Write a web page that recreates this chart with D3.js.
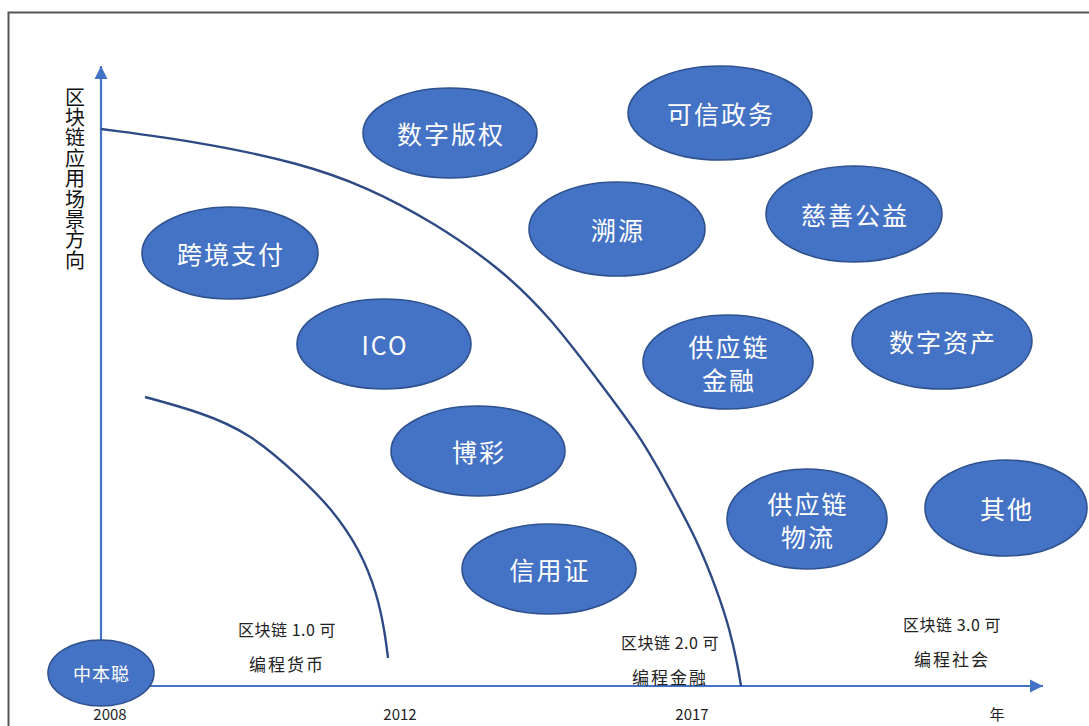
<!DOCTYPE html>
<html>
<head>
<meta charset="utf-8">
<script src="https://cdn.jsdelivr.net/npm/d3@7"></script>
<style>
  html, body { margin: 0; padding: 0; background: #fff; overflow: hidden; }
  svg { display: block; font-family: "Noto Sans CJK SC", "Noto Sans", sans-serif; }
</style>
</head>
<body>
<svg id="chart" width="1089" height="726"></svg>
<script>
// ---- data (diagram units: offsets from the axis origin) ----
const bubbleLabels = ["中本聪", "数字版权", "可信政务", "溯源", "慈善公益", "跨境支付", "ICO",
  "供应链\n金融", "数字资产", "博彩", "供应链\n物流", "其他", "信用证"];
const bubbleX = [0, 349, 619, 516, 753, 129, 283, 627, 841, 377, 706, 905, 448];
const bubbleY = [13, 553, 573, 457, 472, 433, 342, 324, 345, 235, 167, 178, 117];
const bubbleW = [53, 87, 92, 88, 88, 88, 87, 85, 90, 87, 80, 81, 87];
const bubbleH = [33, 45, 47, 47, 48, 46, 45, 47, 48, 45, 50, 48, 45];

const outerCurveX = [0, 99, 199, 266, 332, 399, 449, 499, 542, 569, 596, 616, 629, 637, 640];
const outerCurveY = [557, 544, 523, 499, 464, 418, 369, 303, 246, 196, 146, 96, 56, 19, 0];
const innerCurveX = [44, 99, 149, 199, 232, 259, 276, 284, 287];
const innerCurveY = [289, 274, 253, 209, 176, 136, 93, 53, 28];

const eraLine1 = ["区块链 1.0 可", "区块链 2.0 可", "区块链 3.0 可"];
const eraLine2 = ["编程货币", "编程金融", "编程社会"];
const eraX = [186, 569, 851];
const eraY = [56, 43, 61];

const tickLabels = ["2008", "2012", "2017", "年"];
const tickX = [9, 299, 591, 896];

const yAxisTitle = "区块链应用场景方向";

// ---- scales ----
const x = d3.scaleLinear().domain([0, 942]).range([101, 1043]);
const y = d3.scaleLinear().domain([0, 620]).range([686, 66]);

const svg = d3.select("#chart");

// frame
svg.append("rect")
  .attr("x", 8.5).attr("y", 12.5)
  .attr("width", 1200).attr("height", 800)
  .attr("fill", "none").attr("stroke", "#555").attr("stroke-width", 2);

// arrow marker
const defs = svg.append("defs");
defs.append("marker")
  .attr("id", "arrow")
  .attr("viewBox", "0 0 10 10")
  .attr("refX", 10).attr("refY", 5)
  .attr("markerWidth", 6).attr("markerHeight", 6)
  .attr("markerUnits", "strokeWidth")
  .attr("orient", "auto")
  .append("path").attr("d", "M0,0 L10,5 L0,10 Z").attr("fill", "#4472C4");

const axisColor = "#4472C4";
// y axis
svg.append("line")
  .attr("x1", x(0)).attr("y1", y(0))
  .attr("x2", x(0)).attr("y2", y(620))
  .attr("stroke", axisColor).attr("stroke-width", 2.2)
  .attr("marker-end", "url(#arrow)");
// x axis
svg.append("line")
  .attr("x1", x(40)).attr("y1", y(0))
  .attr("x2", x(942)).attr("y2", y(0))
  .attr("stroke", axisColor).attr("stroke-width", 2.2)
  .attr("marker-end", "url(#arrow)");

// curves
const lineGen = d3.line().x(d => x(d[0])).y(d => y(d[1])).curve(d3.curveBasis);
svg.append("path")
  .attr("d", lineGen(outerCurveX.map((v, i) => [v, outerCurveY[i]])))
  .attr("fill", "none").attr("stroke", "#2E4A85").attr("stroke-width", 2.4);
svg.append("path")
  .attr("d", lineGen(innerCurveX.map((v, i) => [v, innerCurveY[i]])))
  .attr("fill", "none").attr("stroke", "#2E4A85").attr("stroke-width", 2.4);

// y title (vertical)
svg.append("text")
  .attr("x", 75).attr("y", 87)
  .attr("fill", "#111").attr("font-size", 20)
  .style("writing-mode", "vertical-rl")
  .style("text-orientation", "upright")
  .attr("letter-spacing", 0.4)
  .text(yAxisTitle);

// era labels
eraLine1.forEach((t, i) => {
  svg.append("text")
    .attr("x", x(eraX[i])).attr("y", y(eraY[i]) + 6)
    .attr("text-anchor", "middle").attr("font-size", 16).attr("fill", "#222")
    .attr("letter-spacing", 0.5)
    .text(t);
  svg.append("text")
    .attr("x", x(eraX[i])).attr("y", y(eraY[i]) + 41)
    .attr("text-anchor", "middle").attr("font-size", 17).attr("fill", "#222")
    .attr("letter-spacing", 2)
    .text(eraLine2[i]);
});

// year ticks
tickLabels.forEach((t, i) => {
  svg.append("text")
    .attr("x", x(tickX[i])).attr("y", 720)
    .attr("text-anchor", "middle").attr("font-size", 15).attr("fill", "#222")
    .text(t);
});

// bubbles
const g = svg.append("g");
bubbleLabels.forEach((label, i) => {
  const cx = x(bubbleX[i]), cy = y(bubbleY[i]);
  const rx = x(bubbleW[i]) - x(0), ry = y(0) - y(bubbleH[i]);
  g.append("ellipse")
    .attr("cx", cx).attr("cy", cy).attr("rx", rx).attr("ry", ry)
    .attr("fill", "#4472C4").attr("stroke", "#2F528F").attr("stroke-width", 1.6);
  const lines = label.split("\n");
  const fs = i === 0 ? 18 : 25;
  const lh = 33;
  const txt = g.append("text")
    .attr("text-anchor", "middle").attr("fill", "#fff")
    .attr("font-size", fs).attr("letter-spacing", i === 0 ? 1 : 2);
  lines.forEach((ln, j) => {
    const off = (j - (lines.length - 1) / 2) * lh;
    txt.append("tspan")
      .attr("x", cx + (i === 0 ? 0.5 : 1)).attr("y", cy + off)
      .attr("dominant-baseline", "central")
      .text(ln);
  });
});
</script>
</body>
</html>
